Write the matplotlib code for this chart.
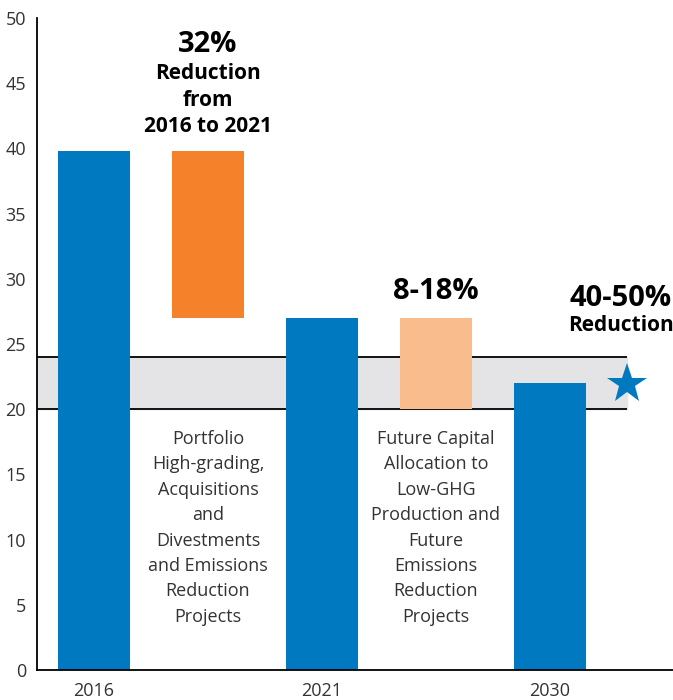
import matplotlib.pyplot as plt

plt.rcParams['font.family'] = ['Open Sans', 'DejaVu Sans']

# data
slots = [0, 1, 2, 3, 4]
bar_bottom = [0, 27, 0, 20, 0]
bar_top = [39.8, 39.8, 27, 27, 22]
bar_colors = ["#0079c1", "#f5822a", "#0079c1", "#f9bc8c", "#0079c1"]
year_labels = ["2016", "", "2021", "", "2030"]
target_low, target_high = 20, 24
star_x, star_y = 4.68, 21.9
yticks = list(range(0, 55, 5))

fig = plt.figure(figsize=(6.73, 7.0), dpi=100)
ax = fig.add_axes([37 / 673, 30 / 700, 636 / 673, 652 / 700])

# target band
ax.fill_between([-0.5, star_x], target_low, target_high, color="#e4e4e6", zorder=0)
ax.hlines([target_low, target_high], -0.5, star_x, color="black", linewidth=1.3, zorder=1)

heights = [t - b for t, b in zip(bar_top, bar_bottom)]
ax.bar(slots, heights, bottom=bar_bottom, width=0.63, color=bar_colors, zorder=2)

ax.plot([star_x], [star_y], marker="*", markersize=30, color="#0079c1",
        markeredgewidth=0, zorder=3, clip_on=False)

# annotations
ax.text(1, 48.0, "32%", ha="center", va="center", fontsize=21, fontweight="bold")
ax.text(1, 43.7, "Reduction\nfrom\n2016 to 2021", ha="center", va="center",
        fontsize=15, fontweight="bold", linespacing=1.33)
ax.text(3, 29.0, "8-18%", ha="center", va="center", fontsize=21, fontweight="bold")
ax.text(4.62, 28.5, "40-50%", ha="center", va="center", fontsize=21, fontweight="bold")
ax.text(4.62, 26.45, "Reduction", ha="center", va="center", fontsize=15, fontweight="bold")

ax.text(1, 10.9, "Portfolio\nHigh-grading,\nAcquisitions\nand\nDivestments\nand Emissions\nReduction\nProjects",
        ha="center", va="center", fontsize=13, color="#333333", linespacing=1.53)
ax.text(3, 10.9, "Future Capital\nAllocation to\nLow-GHG\nProduction and\nFuture\nEmissions\nReduction\nProjects",
        ha="center", va="center", fontsize=13, color="#333333", linespacing=1.53)

ax.set_xlim(-0.5, 5.08)
ax.set_ylim(0, 50)
ax.set_yticks(yticks)
ax.set_xticks(slots)
ax.set_xticklabels(year_labels)
ax.tick_params(length=0, labelsize=13, colors="#333333", pad=8)
ax.tick_params(axis="x", pad=9)
for s in ["top", "right"]:
    ax.spines[s].set_visible(False)
ax.spines["left"].set_linewidth(1.3)
ax.spines["bottom"].set_linewidth(1.3)

fig.savefig("out.png", dpi=100)
